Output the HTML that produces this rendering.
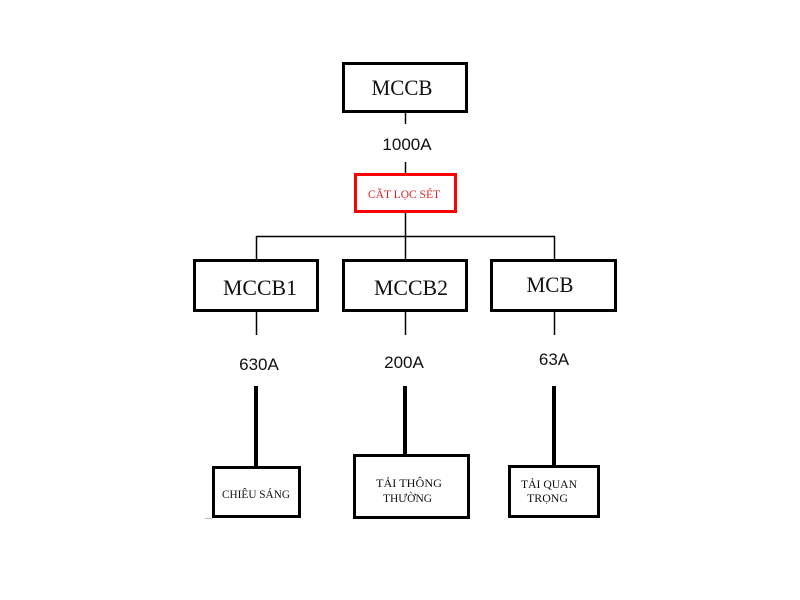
<!DOCTYPE html>
<html><head><meta charset="utf-8"><style>
html,body{margin:0;padding:0;background:#fff;}
svg{display:block;}
.s{font-family:"Liberation Serif",serif;fill:#111;}
.a{font-family:"Liberation Sans",sans-serif;fill:#111;font-size:17px;}
</style></head><body>
<svg width="800" height="600" viewBox="0 0 800 600" xmlns="http://www.w3.org/2000/svg">
<rect width="800" height="600" fill="#fff"/>
<!-- top box -->
<rect x="343.5" y="63.5" width="123" height="48" fill="#fff" stroke="#000" stroke-width="3"/>
<text class="s" x="402" y="95" font-size="22" text-anchor="middle" textLength="61" lengthAdjust="spacingAndGlyphs">MCCB</text>
<line x1="405.5" y1="113" x2="405.5" y2="124" stroke="#000" stroke-width="1.5"/>
<text class="a" x="407" y="150" text-anchor="middle">1000A</text>
<line x1="405.5" y1="162" x2="405.5" y2="174" stroke="#000" stroke-width="1.5"/>
<!-- red box -->
<rect x="355.5" y="174.5" width="100" height="37" fill="#fff" stroke="#ff0000" stroke-width="3"/>
<text x="404" y="198" font-family="Liberation Serif,serif" font-size="12" fill="#e02020" text-anchor="middle" textLength="72" lengthAdjust="spacingAndGlyphs">CĂT LỌC SÉT</text>
<line x1="405.5" y1="213" x2="405.5" y2="259" stroke="#000" stroke-width="1.5"/>
<!-- bus -->
<line x1="256" y1="236.5" x2="555" y2="236.5" stroke="#000" stroke-width="1.5"/>
<line x1="256.5" y1="236" x2="256.5" y2="259" stroke="#000" stroke-width="1.5"/>
<line x1="554.5" y1="236" x2="554.5" y2="259" stroke="#000" stroke-width="1.5"/>
<!-- middle boxes -->
<rect x="194.5" y="260.5" width="123" height="50" fill="#fff" stroke="#000" stroke-width="3"/>
<rect x="343.5" y="260.5" width="123" height="50" fill="#fff" stroke="#000" stroke-width="3"/>
<rect x="491.5" y="260.5" width="124" height="50" fill="#fff" stroke="#000" stroke-width="3"/>
<text class="s" x="260" y="295" font-size="22" text-anchor="middle" textLength="74" lengthAdjust="spacingAndGlyphs">MCCB1</text>
<text class="s" x="411" y="295" font-size="22" text-anchor="middle" textLength="74" lengthAdjust="spacingAndGlyphs">MCCB2</text>
<text class="s" x="550" y="292" font-size="22" text-anchor="middle" textLength="47" lengthAdjust="spacingAndGlyphs">MCB</text>
<line x1="256.5" y1="312" x2="256.5" y2="335" stroke="#000" stroke-width="1.5"/>
<line x1="405.5" y1="312" x2="405.5" y2="335" stroke="#000" stroke-width="1.5"/>
<line x1="554.5" y1="312" x2="554.5" y2="335" stroke="#000" stroke-width="1.5"/>
<text class="a" x="259" y="370" text-anchor="middle">630A</text>
<text class="a" x="404" y="368" text-anchor="middle">200A</text>
<text class="a" x="554" y="365" text-anchor="middle">63A</text>
<!-- thick lines -->
<line x1="256" y1="386" x2="256" y2="467" stroke="#000" stroke-width="4"/>
<line x1="405" y1="386" x2="405" y2="455" stroke="#000" stroke-width="4"/>
<line x1="554" y1="386" x2="554" y2="466" stroke="#000" stroke-width="4"/>
<!-- bottom boxes -->
<rect x="213.5" y="467.5" width="86" height="49" fill="#fff" stroke="#000" stroke-width="3"/>
<rect x="354.5" y="455.5" width="114" height="62" fill="#fff" stroke="#000" stroke-width="3"/>
<rect x="509.5" y="466.5" width="89" height="50" fill="#fff" stroke="#000" stroke-width="3"/>
<line x1="205" y1="518.5" x2="212" y2="518.5" stroke="#bbb" stroke-width="1"/>
<text class="s" x="222" y="498" font-size="12" textLength="68" lengthAdjust="spacingAndGlyphs">CHIÊU SÁNG</text>
<text class="s" x="376" y="487" font-size="12" textLength="66" lengthAdjust="spacingAndGlyphs">TẢI THÔNG</text>
<text class="s" x="383" y="502" font-size="12" textLength="49" lengthAdjust="spacingAndGlyphs">THƯỜNG</text>
<text class="s" x="521" y="488" font-size="12" textLength="56" lengthAdjust="spacingAndGlyphs">TẢI QUAN</text>
<text class="s" x="527" y="502" font-size="12" textLength="41" lengthAdjust="spacingAndGlyphs">TRỌNG</text>
</svg>
</body></html>
